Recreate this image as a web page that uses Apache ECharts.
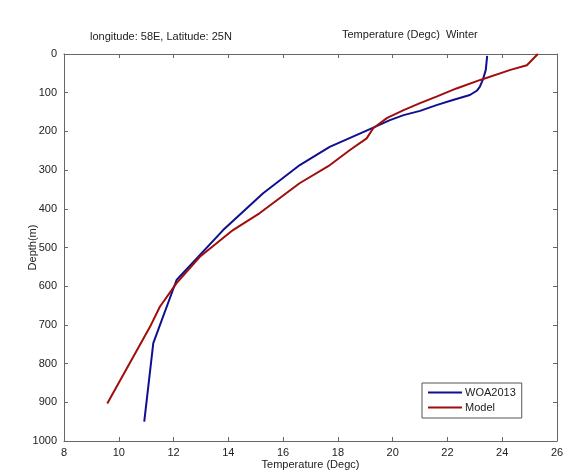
<!DOCTYPE html>
<html>
<head>
<meta charset="utf-8">
<script src="https://cdn.jsdelivr.net/npm/echarts@6/dist/echarts.min.js"></script>
<style>html,body{margin:0;padding:0;background:#fff}#c{width:572px;height:473px}</style>
</head>
<body>
<div id="c"></div>
<script>
var woaDepth = [5, 41, 67, 85, 95, 106, 119, 132, 147, 158, 171, 194, 240, 287, 360, 455, 584, 747, 950];
var woaTemp  = [23.45, 23.4, 23.29, 23.18, 23.07, 22.82, 22.2, 21.6, 21.0, 20.4, 19.9, 19.17, 17.7, 16.61, 15.27, 13.81, 12.11, 11.26, 10.93];
var modelDepth = [0, 29, 41, 67, 89, 110, 127, 145, 165, 192, 218, 248, 290, 334, 411, 455, 524, 592, 653, 705, 903];
var modelTemp  = [25.3, 24.9, 24.3, 23.2, 22.33, 21.6, 21.0, 20.4, 19.8, 19.29, 19.05, 18.44, 17.65, 16.6, 15.15, 14.17, 12.96, 12.11, 11.5, 11.14, 9.58];
var xTicks = [8, 10, 12, 14, 16, 18, 20, 22, 24, 26];
var yTicks = [0, 100, 200, 300, 400, 500, 600, 700, 800, 900, 1000];

function pairs(t, d) { return t.map(function (v, i) { return [v, d[i]]; }); }

var font = 'Liberation Sans, Arial, sans-serif';
var axisCol = '#666';
var chart = echarts.init(document.getElementById('c'), null, {renderer: 'canvas'});
var baseX = {
  type: 'value', min: xTicks[0], max: xTicks[xTicks.length - 1], interval: 2,
  axisLine: {show: true, onZero: false, lineStyle: {color: axisCol, width: 1}},
  axisTick: {show: true, inside: true, length: 4, lineStyle: {color: axisCol}},
  splitLine: {show: false}
};
var baseY = {
  type: 'value', min: yTicks[0], max: yTicks[yTicks.length - 1], interval: 100, inverse: true,
  axisLine: {show: true, onZero: false, lineStyle: {color: axisCol, width: 1}},
  axisTick: {show: true, inside: true, length: 4, lineStyle: {color: axisCol}},
  splitLine: {show: false}
};
chart.setOption({
  animation: false,
  backgroundColor: '#fff',
  grid: {left: 64, right: 15, top: 54, bottom: 32, outerBoundsMode: 'none', containLabel: false},
  graphic: [
    {type: 'text', left: 90, top: 31, style: {text: 'longitude: 58E, Latitude: 25N', font: '11px ' + font, fill: '#222'}},
    {type: 'text', left: 342, top: 29, style: {text: 'Temperature (Degc)  Winter', font: '11px ' + font, fill: '#222'}}
  ],
  xAxis: [
    Object.assign({}, baseX, {
      position: 'bottom',
      name: 'Temperature (Degc)', nameLocation: 'middle', nameGap: 18, nameMoveOverlap: false,
      nameTextStyle: {fontFamily: font, fontSize: 11, color: '#222'},
      axisLabel: {show: true, margin: 6, fontFamily: font, fontSize: 11, color: '#222',
                  formatter: function (v) { return String(v); }}
    }),
    Object.assign({}, baseX, {position: 'top', axisLabel: {show: false}})
  ],
  yAxis: [
    Object.assign({}, baseY, {
      position: 'left',
      name: 'Depth(m)', nameLocation: 'middle', nameGap: 26, nameMoveOverlap: false,
      nameTextStyle: {fontFamily: font, fontSize: 11, color: '#222'},
      axisLabel: {show: true, margin: 7, fontFamily: font, fontSize: 11, color: '#222',
                  formatter: function (v) { return String(v); }}
    }),
    Object.assign({}, baseY, {position: 'right', axisLabel: {show: false}})
  ],
  legend: {
    orient: 'vertical', left: 422, top: 383,
    width: 100,
    padding: [4, 6, 5, 6], itemGap: 4,
    borderColor: '#555', borderWidth: 1, backgroundColor: '#fff',
    itemWidth: 34, itemHeight: 2, icon: 'rect',
    textStyle: {fontFamily: font, fontSize: 11, color: '#222', padding: [0, 0, 0, -2]},
    data: ['WOA2013', 'Model']
  },
  series: [
    {name: 'WOA2013', type: 'line', data: pairs(woaTemp, woaDepth), showSymbol: false, symbol: 'none',
     lineStyle: {color: '#10108f', width: 2}, itemStyle: {color: '#10108f'}, smooth: false},
    {name: 'Model', type: 'line', data: pairs(modelTemp, modelDepth), showSymbol: false, symbol: 'none',
     lineStyle: {color: '#a00d0d', width: 2}, itemStyle: {color: '#a00d0d'}, smooth: false}
  ]
});
</script>
</body>
</html>
